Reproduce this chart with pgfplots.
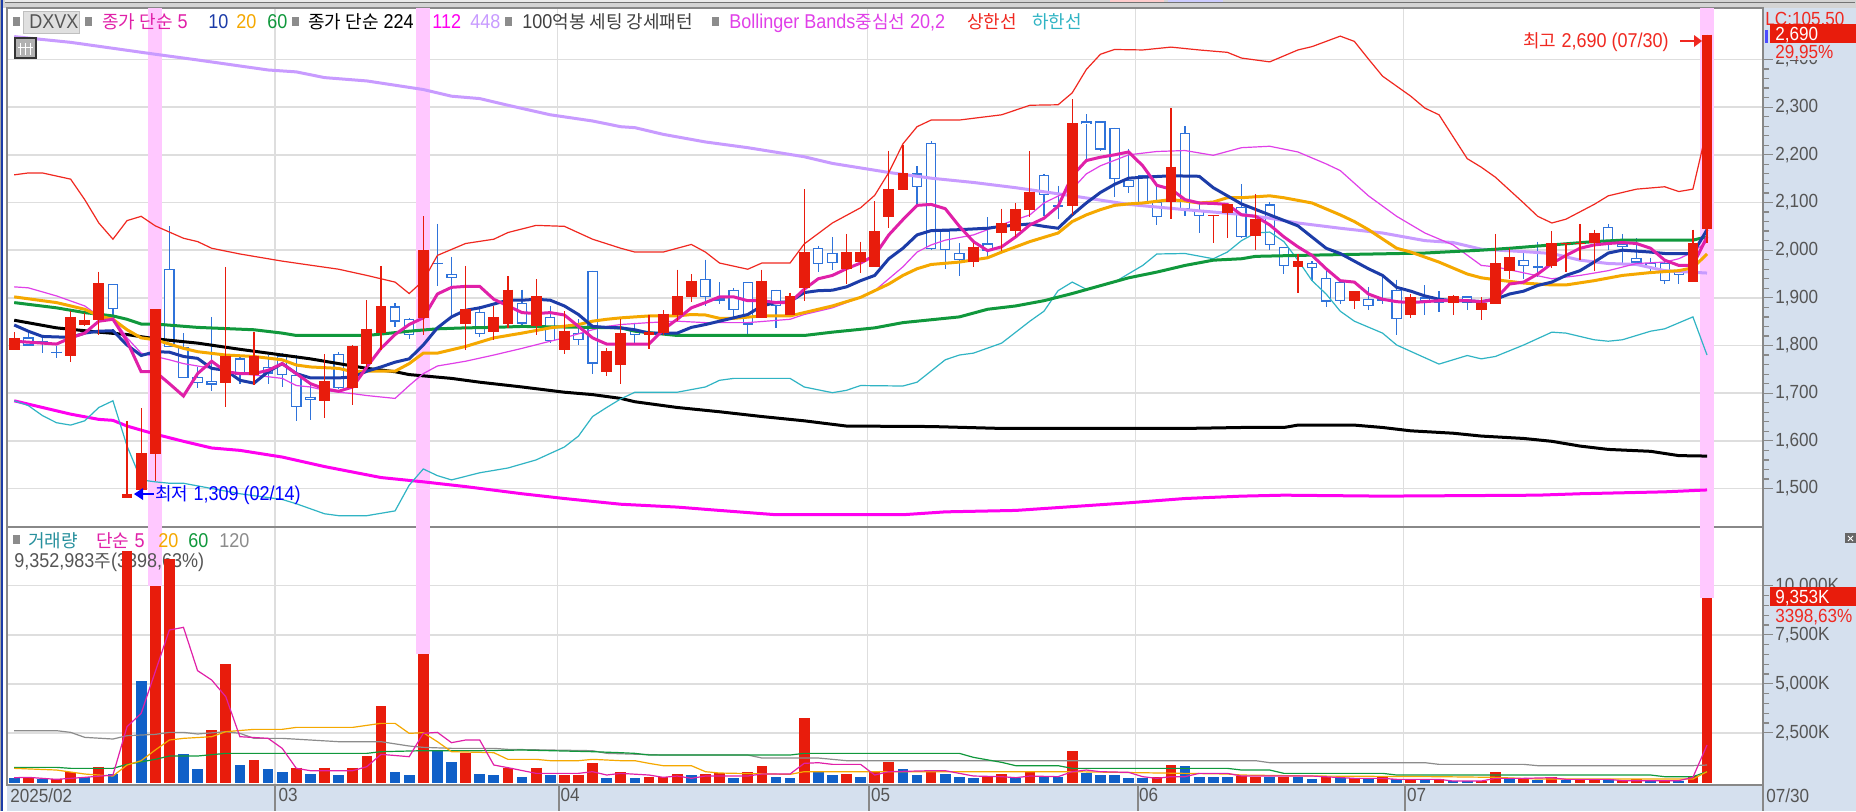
\documentclass[border=0pt]{standalone}
\usepackage{fontspec}
\usepackage{pgfplots}
\usepackage{pgfplotstable}
\pgfplotsset{compat=1.18}
\setmainfont[FakeStretch=0.9]{Liberation Sans}
\newfontfamily\kr{Noto Sans CJK KR}
\newcommand{\K}[1]{{\kr\fontsize{9}{10}\selectfont #1}}
\definecolor{upred}{HTML}{E81C0C}
\definecolor{downblue}{HTML}{2F73DA}
\definecolor{volblue}{HTML}{1060C8}
\definecolor{ma5}{HTML}{E020A8}
\definecolor{ma10}{HTML}{1C3CA8}
\definecolor{ma20}{HTML}{F5A800}
\definecolor{ma60}{HTML}{10983C}
\definecolor{ma112}{HTML}{FF00F0}
\definecolor{ma448}{HTML}{C89BFF}
\definecolor{bbup}{HTML}{F02820}
\definecolor{bbmid}{HTML}{E040E8}
\definecolor{bblow}{HTML}{30B4C4}
\definecolor{band}{HTML}{FFC8FF}
\definecolor{gridc}{HTML}{DEDEDE}
\definecolor{axisc}{HTML}{888888}
\definecolor{panel}{HTML}{D5E0EE}
\definecolor{labelc}{HTML}{555555}
\definecolor{vol120}{HTML}{8C8C8C}

% i low bodybottom bodytop high
\pgfplotstableread{
i lo bot top hi
0 1790 1790 1816 1828
4 1765 1777 1860 1872
5 1840 1843 1854 1869
6 1823 1853 1931 1955
8 1481 1481 1489 1642
9 1497 1497 1575 1668
10 1516 1572 1876 1876
15 1670 1721 1779 1965
17 1718 1738 1779 1828
22 1647 1683 1725 1782
24 1676 1711 1798 1801
25 1755 1762 1835 1895
26 1791 1826 1882 1967
29 1821 1858 2001 2071
32 1791 1845 1876 1967
34 1812 1828 1860 1883
35 1837 1845 1917 1945
37 1821 1840 1904 1939
39 1782 1790 1831 1872
42 1736 1745 1789 1794
43 1720 1760 1826 1855
45 1793 1821 1828 1863
46 1821 1826 1867 1874
47 1851 1865 1904 1959
48 1892 1902 1936 1949
53 1858 1858 1936 1959
55 1864 1864 1904 1911
56 1894 1921 1996 2128
59 1929 1961 1996 2034
60 1952 1975 1996 2018
61 1965 1965 2040 2103
62 2046 2070 2128 2209
63 2126 2126 2162 2220
68 1965 1975 2007 2014
70 1999 2036 2058 2087
71 2028 2041 2087 2099
72 2070 2085 2122 2207
75 2074 2092 2266 2317
82 2065 2101 2175 2298
85 2016 2071 2074 2074
86 2025 2077 2096 2096
88 2000 2030 2065 2118
91 1911 1965 1977 1992
95 1877 1894 1914 1914
99 1858 1865 1901 1908
102 1865 1889 1903 1906
104 1853 1875 1890 1901
105 1888 1888 1973 2034
106 1940 1957 1986 2004
109 1963 1966 2014 2040
110 1955 2012 2015 2015
111 1979 2012 2015 2055
112 1957 2014 2036 2043
119 1933 1933 2014 2043
120 2016 2044 2452 2452
}\candlesUp
\pgfplotstableread{
i lo bot top hi
1 1798 1800 1817 1826
2 1784 1807 1809 1823
3 1773 1784 1787 1798
7 1855 1876 1929 1929
11 1797 1797 1960 2050
12 1731 1731 1797 1826
13 1711 1721 1734 1755
14 1704 1718 1725 1860
16 1720 1738 1773 1779
18 1720 1741 1755 1780
19 1713 1738 1779 1784
20 1642 1670 1738 1780
21 1644 1686 1693 1723
23 1709 1711 1782 1786
27 1839 1850 1882 1889
28 1814 1821 1856 1858
30 1924 1970 1974 2055
31 1862 1941 1950 1986
33 1817 1824 1871 1883
36 1844 1846 1890 1917
38 1805 1810 1860 1883
40 1801 1812 1826 1855
41 1741 1762 1957 1957
44 1803 1821 1830 1848
49 1883 1901 1939 1980
50 1887 1894 1899 1933
51 1855 1875 1917 1921
52 1823 1844 1933 1933
54 1837 1883 1917 1917
57 1955 1970 2005 2009
58 1959 1973 1995 2027
64 2096 2133 2161 2176
65 2001 2003 2225 2228
66 1961 2000 2040 2043
67 1945 1979 1994 2014
69 1984 1999 2014 2069
73 2071 2115 2158 2160
74 2065 2091 2094 2135
76 2192 2264 2270 2285
77 2207 2211 2270 2270
78 2112 2149 2257 2257
79 2119 2133 2148 2213
80 2096 2099 2158 2158
81 2053 2070 2101 2138
83 2072 2085 2246 2260
84 2036 2071 2085 2099
87 2025 2028 2091 2138
89 2000 2011 2096 2101
90 1949 1967 2007 2007
92 1935 1962 1974 1977
93 1881 1892 1942 1957
94 1887 1894 1933 1933
96 1875 1883 1897 1923
97 1887 1894 1897 1945
98 1821 1856 1917 1938
100 1865 1894 1901 1926
101 1871 1890 1897 1914
103 1875 1889 1903 1903
107 1940 1967 1979 1999
108 1943 1962 1966 2018
113 2000 2016 2048 2055
114 1972 2007 2014 2034
115 1966 1974 1984 2025
116 1955 1963 1973 1984
117 1928 1935 1973 1977
118 1928 1947 1955 1959
}\candlesDown
% volume in thousands of shares
\pgfplotstableread{
i v
1 230
3 145
4 485
6 775
8 11790
10 9970
11 11350
14 2630
15 5990
17 1100
20 720
22 720
24 720
25 1320
26 3850
29 6520
32 1490
35 720
37 720
39 330
40 365
41 940
43 485
45 265
46 230
47 400
49 400
50 435
52 485
53 790
56 3240
59 400
61 570
62 1030
65 600
69 265
70 400
72 485
75 1555
81 230
82 860
87 300
88 265
90 265
93 265
95 210
97 230
99 130
101 130
104 60
105 485
107 180
109 230
111 130
112 130
114 60
115 130
117 60
119 300
120 9353
}\volUp
\pgfplotstableread{
i v
0 180
2 130
5 230
7 400
9 5140
12 1400
13 640
16 860
18 640
19 485
21 400
23 330
27 485
28 330
30 1620
31 1010
33 400
34 330
36 250
38 330
42 180
44 180
48 330
51 180
54 245
55 180
57 485
58 330
60 245
63 640
64 330
66 400
67 245
68 180
71 180
73 265
74 265
76 435
77 330
78 330
79 180
80 180
83 790
84 245
85 245
86 245
89 265
91 265
92 160
94 180
96 195
98 130
100 130
102 60
103 60
106 130
108 95
110 95
113 130
116 60
118 60
}\volDown

\tikzset{px/.style={x=0.5pt, y=-0.5pt}}
\pgfplotsset{
  seg/.style 2 args={draw=none, mark=none, forget plot,
    /pgfplots/error bars/y dir=minus,
    /pgfplots/error bars/y explicit,
    /pgfplots/error bars/error mark=none,
    /pgfplots/error bars/error bar style={draw=#1, line width=#2, solid}},
  panelaxis/.style={
    scale only axis, width=878pt, xmin=-0.51, xmax=123.97, no markers,
    axis line style={draw=axisc, line width=0.7pt},
    xtick={-0.51,18.5,38.5,60.5,79.5,98.5,123.97},
    x tick style={draw=none},
    ytick pos=right, yticklabel pos=right, tick align=outside, scaled y ticks=false,
    major tick length=5pt, minor tick length=3pt,
    y tick style={draw=axisc, line width=0.6pt},
    tick label style={font=\fontsize{9.5}{12}\selectfont, text=labelc},
    yticklabel style={inner xsep=0pt, xshift=1pt},
    grid=major, grid style={draw=gridc, line width=0.7pt},
    /pgf/number format/assume math mode=true,
    /pgf/number format/1000 sep={,},
  },
}

\begin{document}
\begin{tikzpicture}
\path[use as bounding box] (0pt,0pt) rectangle (928pt,-405.5pt);
\begin{scope}[px]
% window chrome and panels
\fill[white] (0,0) rectangle (1856,811);
\fill[black!17] (0,0) rectangle (1856,8);
\fill[black!8] (5,0) rectangle (1000,2);
\draw[black!55, line width=0.5pt] (5,2) -- (1855,2);
\fill[red!20] (1110,0) rectangle (1164,2);
\fill[blue!20] (1168,0) rectangle (1223,2);
\fill[black!35] (0,0) rectangle (1,811);
\fill[ma10] (1,0) rectangle (2.5,811);
\fill[panel] (1763,8) rectangle (1856,811);
\fill[panel] (7,785) rectangle (1856,811);
\end{scope}

% volume pane: grid, ticks and pink day bands
\begin{axis}[panelaxis, at={(3.5pt,-392.5pt)}, anchor=south west, height=129pt,
  ymin=-161, ymax=12997,
  ytick={2500,5000,7500,10000}, minor y tick num=4,
  yticklabel={\pgfmathprintnumber{\tick}K},
  xticklabels={2025/02,03,04,05,06,07,07/30},
  xtick pos=bottom,
  xticklabel style={anchor=north west, inner sep=0pt, xshift=1.5pt, yshift=3.5pt},
]
\addplot[seg={band}{7pt}] table[x=i, y expr=12997, y error minus expr=12997-\thisrow{v}] {
i v
10 9970
29 6520
120 9353
};
\end{axis}
\begin{scope}[px]
\foreach \sx in {275,559,869,1138,1405,1763}{\draw[axisc, line width=0.7pt] (\sx,785) -- (\sx,811);}
% read-out line that the bars cover
\node[anchor=base west, inner sep=0pt, text=labelc] at (14,567) {\fontsize{10}{11}\selectfont 9,352,983\K{주}(3398,63\%)};
\end{scope}

% volume bars and averages
\begin{axis}[panelaxis, at={(3.5pt,-392.5pt)}, anchor=south west, height=129pt,
  ymin=-161, ymax=12997, hide axis]
\addplot[seg={upred}{5.35pt}] table[x=i, y=v, y error minus expr=\thisrow{v}+76] {\volUp};
\addplot[seg={volblue}{5.35pt}] table[x=i, y=v, y error minus expr=\thisrow{v}+76] {\volDown};
\addplot[vol120, line width=0.6pt] coordinates {(0,2610)(3,2610)(4,2525)(5,2270)(7,2185)(8,2355)(10,2423)(11,2525)(12,2525)(13,2440)(15,2559)(16,2474)(17,2219)(19,2219)(21,2134)(23,2049)(26,2049)(28,1828)(29,1760)(31,1709)(34,1709)(35,1658)(38,1624)(41,1590)(42,1454)(46,1369)(52,1369)(53,1216)(57,1216)(59,1080)(88,1080)(89,978)(100,978)(101,893)(107,893)(108,825)(119,825)(120,859)};
\addplot[ma60, line width=0.6pt] coordinates {(0,740)(3,740)(4,689)(7,689)(8,893)(10,1148)(11,1318)(13,1318)(15,1454)(25,1454)(26,1539)(29,1590)(33,1590)(36,1624)(41,1539)(43,1488)(44,1454)(45,1369)(46,1369)(52,1369)(55,1369)(56,1454)(67,1454)(68,1250)(70,995)(71,825)(74,825)(75,689)(86,689)(87,604)(89,604)(90,434)(97,434)(98,349)(116,349)(117,264)(119,264)(120,519)};
\addplot[ma20, line width=0.6pt] coordinates {(0,689)(3,604)(5,400)(7,298)(8,859)(9,1080)(10,1624)(11,2134)(12,2219)(14,2304)(15,2559)(17,2678)(19,2678)(20,2780)(24,2780)(26,2984)(27,2984)(28,2474)(29,2508)(30,2049)(31,1539)(34,1488)(35,1148)(37,1148)(38,1080)(40,1080)(41,1148)(43,1080)(44,1080)(45,944)(46,825)(48,825)(49,519)(50,451)(55,383)(56,519)(75,519)(86,400)(87,349)(92,298)(101,264)(105,230)(108,145)(119,145)(120,519)};
\addplot[ma5, line width=0.6pt] coordinates {(0,212)(1,230)(3,128)(5,230)(7,349)(8,2814)(9,3494)(10,5619)(11,7744)(12,7880)(13,5670)(14,5194)(15,4344)(16,2304)(18,2219)(19,1709)(20,689)(21,570)(24,570)(25,774)(26,1403)(28,1284)(29,2474)(30,2525)(31,1998)(32,2134)(33,2134)(34,859)(35,723)(37,434)(40,434)(41,519)(42,349)(43,434)(45,349)(46,230)(47,298)(48,179)(49,298)(52,298)(53,400)(55,400)(56,944)(57,978)(58,893)(60,893)(61,349)(62,519)(65,570)(66,570)(67,434)(68,298)(70,264)(71,213)(72,298)(74,264)(75,519)(76,604)(77,519)(79,485)(80,264)(81,179)(82,264)(83,264)(84,434)(86,434)(87,298)(92,298)(95,179)(97,179)(98,128)(101,128)(102,43)(104,43)(105,179)(107,179)(109,213)(110,128)(113,128)(114,60)(118,60)(119,230)(120,1879)};
\end{axis}

% price pane
\begin{axis}[panelaxis, at={(3.5pt,-263.5pt)}, anchor=south west, height=259.5pt,
  ymin=1419.2, ymax=2508,
  ytick={1500,1600,1700,1800,1900,2000,2100,2200,2300,2400}, minor y tick num=4,
  xticklabels={},
]
\addplot[seg={band}{7pt}] table[x=i, y expr=2508, y error minus expr=1100] {
i
10
29
120
};
% hollow candles sit under the averages
\addplot[seg={downblue}{0.6pt}] table[x=i, y=hi, y error minus expr=\thisrow{hi}-\thisrow{lo}] {\candlesDown};
\addplot[seg={downblue}{5.2pt}] table[x=i, y=top, y error minus expr=\thisrow{top}-\thisrow{bot}] {\candlesDown};
\addplot[seg={white}{4pt}] table[x=i, y expr=\thisrow{top}-2.5, y error minus expr={max(\thisrow{top}-\thisrow{bot}-5,0)}] {\candlesDown};
% 448
\addplot[ma448, line width=1.5pt] coordinates {(0,2448)(4,2436)(10,2411)(13,2399)(18,2378)(20,2374)(22,2362)(25,2355)(29,2337)(31,2323)(33,2318)(35,2304)(38,2284)(41,2271)(43,2259)(44,2257)(46,2243)(49,2227)(52,2215)(56,2196)(58,2182)(62,2163)(65,2151)(68,2142)(71,2131)(75,2114)(79,2096)(83,2085)(87,2075)(89,2067)(91,2057)(94,2046)(97,2036)(100,2020)(102,2016)(104,2002)(107,1997)(109,1993)(111,1979)(113,1972)(115,1970)(117,1957)(120,1952)};
% 112
\addplot[ma112, line width=1.5pt] coordinates {(0,1684)(4,1656)(6,1645)(7,1643)(8,1631)(10,1614)(12,1599)(14,1585)(16,1580)(19,1566)(22,1546)(26,1523)(29,1514)(32,1504)(36,1489)(39,1479)(43,1467)(47,1461)(50,1454)(54,1445)(63,1445)(66,1451)(71,1454)(75,1462)(79,1470)(83,1479)(87,1484)(90,1486)(97,1484)(108,1486)(111,1489)(117,1493)(120,1497)};
% 224
\addplot[black, line width=1.5pt] coordinates {(0,1853)(3,1837)(6,1828)(8,1823)(10,1814)(13,1805)(16,1792)(18,1784)(21,1772)(23,1762)(25,1752)(27,1745)(28,1739)(31,1731)(33,1723)(36,1713)(39,1702)(41,1697)(43,1689)(44,1682)(47,1670)(50,1661)(53,1651)(56,1642)(59,1631)(65,1630)(70,1626)(83,1626)(87,1628)(90,1628)(91,1633)(95,1633)(97,1628)(99,1621)(102,1616)(104,1610)(107,1605)(109,1599)(111,1589)(113,1582)(116,1578)(118,1569)(120,1568)};
% Bollinger
\addplot[bbup, line width=0.6pt] coordinates {(0,2158)(1,2162)(2,2162)(4,2149)(5,2106)(6,2057)(7,2023)(8,2062)(9,2071)(10,2051)(12,2025)(13,2018)(14,2004)(16,1992)(19,1977)(23,1960)(25,1947)(27,1933)(28,1909)(29,1936)(30,1989)(32,2014)(34,2023)(35,2037)(37,2052)(39,2050)(41,2023)(43,2004)(44,1996)(46,1996)(48,2012)(49,1996)(50,1973)(52,1960)(53,1973)(55,1973)(56,2013)(58,2057)(60,2089)(61,2115)(62,2163)(63,2223)(64,2259)(65,2273)(67,2273)(70,2284)(72,2304)(74,2305)(75,2330)(76,2379)(77,2411)(78,2421)(80,2420)(82,2426)(84,2420)(86,2415)(87,2403)(89,2395)(91,2420)(92,2427)(94,2449)(95,2438)(96,2401)(97,2365)(99,2323)(100,2298)(101,2284)(103,2192)(104,2174)(105,2153)(107,2099)(108,2071)(109,2057)(110,2065)(112,2096)(113,2114)(115,2128)(117,2133)(118,2123)(119,2128)(120,2255)};
\addplot[bbmid, line width=0.6pt] coordinates {(0,1923)(1,1921)(3,1904)(5,1883)(6,1862)(7,1858)(8,1816)(9,1784)(10,1777)(11,1770)(12,1762)(14,1752)(15,1745)(17,1738)(19,1731)(20,1716)(21,1713)(22,1706)(23,1702)(24,1699)(25,1695)(26,1692)(27,1689)(28,1716)(29,1741)(30,1757)(32,1767)(34,1780)(36,1794)(38,1809)(39,1816)(41,1833)(42,1840)(43,1844)(45,1848)(47,1851)(49,1848)(50,1848)(52,1848)(55,1855)(56,1865)(58,1879)(60,1901)(61,1915)(62,1940)(63,1965)(64,1996)(65,2011)(66,2021)(68,2032)(69,2043)(71,2064)(72,2074)(73,2099)(75,2128)(76,2160)(77,2177)(79,2200)(81,2207)(83,2209)(85,2199)(87,2215)(89,2218)(91,2206)(93,2181)(94,2167)(96,2114)(98,2071)(100,2036)(102,2011)(104,1968)(105,1965)(109,1940)(111,1947)(113,1957)(115,1972)(117,1975)(118,1982)(119,1996)(120,2018)};
\addplot[bblow, line width=0.6pt] coordinates {(0,1684)(1,1674)(2,1653)(3,1638)(4,1633)(5,1642)(6,1670)(7,1684)(8,1589)(9,1518)(10,1514)(11,1511)(12,1511)(14,1500)(16,1489)(19,1477)(20,1468)(22,1447)(23,1443)(25,1443)(26,1448)(27,1453)(28,1507)(29,1541)(30,1527)(31,1518)(33,1533)(35,1543)(37,1560)(39,1587)(40,1610)(41,1651)(42,1670)(43,1688)(44,1702)(47,1702)(49,1713)(50,1727)(51,1731)(55,1731)(56,1713)(58,1701)(59,1706)(60,1716)(63,1715)(64,1723)(66,1770)(67,1780)(68,1784)(70,1805)(72,1851)(73,1872)(74,1915)(75,1933)(76,1918)(77,1926)(78,1933)(80,1968)(81,1992)(83,1993)(85,1982)(86,1996)(87,2020)(88,2036)(89,2038)(90,2018)(91,1979)(92,1936)(93,1908)(94,1872)(95,1851)(97,1826)(98,1801)(101,1761)(103,1779)(104,1772)(105,1777)(107,1801)(109,1828)(110,1826)(112,1812)(113,1809)(114,1812)(116,1830)(117,1835)(119,1860)(120,1780)};
% 60
\addplot[ma60, line width=1.5pt] coordinates {(0,1890)(3,1879)(5,1869)(7,1862)(8,1855)(9,1845)(10,1845)(13,1838)(17,1833)(19,1826)(20,1821)(25,1821)(28,1830)(30,1835)(32,1837)(34,1838)(36,1840)(41,1838)(43,1837)(44,1830)(47,1821)(56,1821)(58,1828)(61,1837)(63,1848)(67,1860)(69,1876)(71,1883)(73,1894)(75,1909)(79,1942)(81,1954)(83,1968)(85,1979)(87,1982)(88,1987)(91,1989)(100,1994)(104,2000)(106,2004)(109,2011)(112,2018)(114,2021)(119,2021)(120,2028)};
% 20
\addplot[ma20, line width=1.5pt] coordinates {(0,1902)(3,1890)(5,1876)(6,1862)(7,1855)(8,1833)(9,1816)(10,1812)(12,1794)(13,1787)(15,1780)(17,1777)(19,1770)(20,1759)(21,1755)(23,1752)(24,1745)(25,1746)(27,1746)(28,1762)(29,1784)(30,1784)(32,1798)(34,1816)(36,1826)(38,1837)(40,1844)(41,1851)(42,1855)(43,1858)(45,1862)(47,1862)(48,1865)(49,1864)(50,1857)(51,1857)(53,1862)(55,1862)(56,1869)(58,1883)(60,1901)(61,1915)(62,1929)(63,1947)(64,1961)(65,1970)(67,1975)(69,1984)(70,1996)(71,2007)(72,2018)(74,2036)(75,2060)(76,2074)(77,2085)(78,2094)(79,2097)(80,2099)(82,2106)(83,2103)(84,2099)(85,2101)(86,2110)(87,2110)(89,2114)(90,2110)(92,2099)(94,2074)(95,2060)(96,2043)(98,2004)(99,1996)(101,1975)(103,1950)(104,1942)(105,1938)(107,1931)(109,1927)(110,1927)(112,1936)(114,1947)(116,1953)(118,1957)(119,1963)(120,1992)};
% 10
\addplot[ma10, line width=1.5pt] coordinates {(0,1843)(1,1830)(2,1819)(4,1817)(5,1826)(6,1830)(7,1831)(8,1801)(9,1779)(10,1787)(11,1786)(12,1777)(13,1773)(14,1752)(15,1748)(16,1727)(17,1721)(18,1745)(19,1762)(20,1741)(21,1732)(23,1732)(24,1734)(25,1746)(26,1755)(27,1765)(28,1772)(29,1801)(30,1837)(31,1860)(32,1874)(33,1879)(34,1887)(35,1895)(36,1895)(37,1897)(38,1895)(39,1883)(40,1865)(41,1840)(42,1838)(43,1837)(44,1833)(45,1826)(47,1826)(48,1838)(49,1844)(50,1851)(52,1865)(53,1883)(54,1890)(55,1892)(56,1911)(57,1915)(58,1916)(59,1923)(60,1936)(61,1947)(62,1982)(63,2004)(64,2032)(65,2041)(67,2043)(69,2046)(70,2050)(72,2055)(73,2050)(74,2046)(75,2074)(76,2099)(77,2121)(78,2138)(79,2151)(80,2153)(82,2156)(84,2155)(85,2131)(86,2114)(87,2097)(89,2074)(91,2051)(93,2004)(94,1993)(96,1961)(97,1947)(98,1922)(99,1914)(100,1904)(101,1897)(102,1894)(103,1894)(104,1892)(105,1897)(106,1908)(107,1914)(108,1926)(109,1933)(110,1947)(111,1957)(112,1975)(113,1994)(114,2000)(116,1996)(117,1993)(119,1993)(120,2043)};
% 5
\addplot[ma5, line width=1.5pt] coordinates {(0,1809)(1,1807)(3,1803)(4,1816)(5,1826)(6,1851)(7,1855)(8,1809)(9,1745)(10,1745)(11,1720)(12,1694)(13,1741)(14,1767)(15,1745)(16,1741)(17,1741)(18,1748)(19,1762)(20,1741)(21,1720)(22,1709)(23,1704)(24,1713)(25,1755)(26,1794)(27,1823)(28,1844)(29,1858)(30,1908)(31,1922)(32,1924)(33,1924)(34,1897)(35,1883)(36,1869)(37,1867)(38,1869)(39,1864)(40,1840)(41,1816)(42,1803)(43,1803)(44,1803)(45,1803)(46,1833)(47,1855)(48,1879)(49,1890)(50,1902)(51,1902)(52,1894)(53,1894)(54,1890)(55,1890)(56,1918)(57,1940)(58,1947)(59,1961)(60,1973)(61,1989)(62,2032)(63,2064)(64,2094)(65,2096)(66,2087)(67,2050)(68,2018)(69,1999)(70,2007)(71,2028)(72,2053)(73,2067)(74,2092)(75,2156)(76,2188)(77,2195)(78,2200)(79,2206)(80,2177)(81,2136)(82,2128)(83,2106)(84,2099)(85,2098)(86,2096)(87,2074)(88,2071)(89,2053)(90,2028)(91,2007)(92,1989)(93,1961)(94,1936)(95,1933)(96,1908)(97,1897)(98,1892)(99,1890)(100,1892)(101,1894)(102,1894)(103,1894)(104,1892)(105,1897)(106,1929)(107,1933)(108,1950)(109,1972)(110,1989)(111,2004)(112,2011)(113,2014)(114,2016)(115,2014)(116,2004)(117,1979)(118,1968)(119,1968)(120,2028)};
% filled candles on top
\addplot[seg={upred}{0.6pt}] table[x=i, y=hi, y error minus expr=\thisrow{hi}-\thisrow{lo}] {\candlesUp};
\addplot[seg={upred}{5.4pt}] table[x=i, y=top, y error minus expr=\thisrow{top}-\thisrow{bot}] {\candlesUp};
\end{axis}

% legends of the price pane
\begin{scope}[px, every node/.style={anchor=base west, inner sep=0pt, font=\fontsize{10}{11}\selectfont}]
\fill[black!12] (23,11) rectangle (79,33);
\draw[black!25, line width=0.5pt] (23,11) rectangle (79,33);
\foreach \sx in {16,88,295,508,715}{\fill[black!45] (\sx-3.5,17) rectangle (\sx+3.5,26);}
\node[text=labelc] at (29,28) {DXVX};
\node[text=ma5] at (102,28) {\K{종가 단순} 5};
\node[text=ma10] at (208,28) {10};
\node[text=ma20] at (236,28) {20};
\node[text=ma60] at (267,28) {60};
\node[text=black] at (308,28) {\K{종가 단순} 224};
\node[text=ma112] at (432,28) {112};
\node[text=ma448] at (470,28) {448};
\node[text=black!75] at (522,28) {100\K{억봉 세팅 강세패턴}};
\node[text=bbmid] at (729,28) {Bollinger Bands\K{중심선} 20,2};
\node[text=bbup] at (967,28) {\K{상한선}};
\node[text=bblow] at (1032,28) {\K{하한선}};
% pane icon
\fill[black!30] (15,38) rectangle (36,58);
\draw[black!80, line width=0.6pt] (15,38) rectangle (36,58);
\foreach \sx in {20,25,30}{\draw[white, line width=0.4pt] (\sx,43) -- (\sx,55);}
\draw[white, line width=0.4pt] (18,47) -- (33,47);
% high and low marks
\node[text=bbup] at (1523,47) {\K{최고} 2,690 (07/30)};
\draw[bbup, line width=0.6pt] (1680,41) -- (1696,41);
\fill[bbup] (1702,41) -- (1694,35) -- (1694,47) -- cycle;
\node[text=blue] at (155,500) {\K{최저} 1,309 (02/14)};
\draw[blue, line width=0.6pt] (142,494) -- (154,494);
\fill[blue] (134,494) -- (143,488) -- (143,500) -- cycle;
% right pane read-outs
\node[text=bbup, font=\fontsize{9.5}{11}\selectfont] at (1765,25) {LC:105,50};
\fill[blue!70] (1765,30) rectangle (1768,43);
\fill[panel] (1773,43) rectangle (1856,60);
\fill[upred] (1770,24) rectangle (1856,43);
\node[text=white, font=\fontsize{9.5}{12}\selectfont] at (1775,40) {2,690};
\node[text=bbup, font=\fontsize{9.5}{12}\selectfont] at (1775,58) {29,95\%};
\fill[upred] (1770,587) rectangle (1856,606);
\node[text=white, font=\fontsize{9.5}{12}\selectfont] at (1775,603) {9,353K};
\node[text=bbup, font=\fontsize{9.5}{12}\selectfont] at (1775,622) {3398,63\%};
\fill[black!60] (1845,533) rectangle (1856,543);
\draw[white, line width=0.4pt] (1848,536) -- (1853,541) (1853,536) -- (1848,541);
% volume legend
\fill[black!45] (12.5,535) rectangle (19.5,544);
\node[text=bblow!80!black] at (28,547) {\K{거래량}};
\node[text=ma5] at (96,547) {\K{단순} 5};
\node[text=ma20] at (158,547) {20};
\node[text=ma60] at (188,547) {60};
\node[text=vol120] at (219,547) {120};
\end{scope}
\end{tikzpicture}
\end{document}
